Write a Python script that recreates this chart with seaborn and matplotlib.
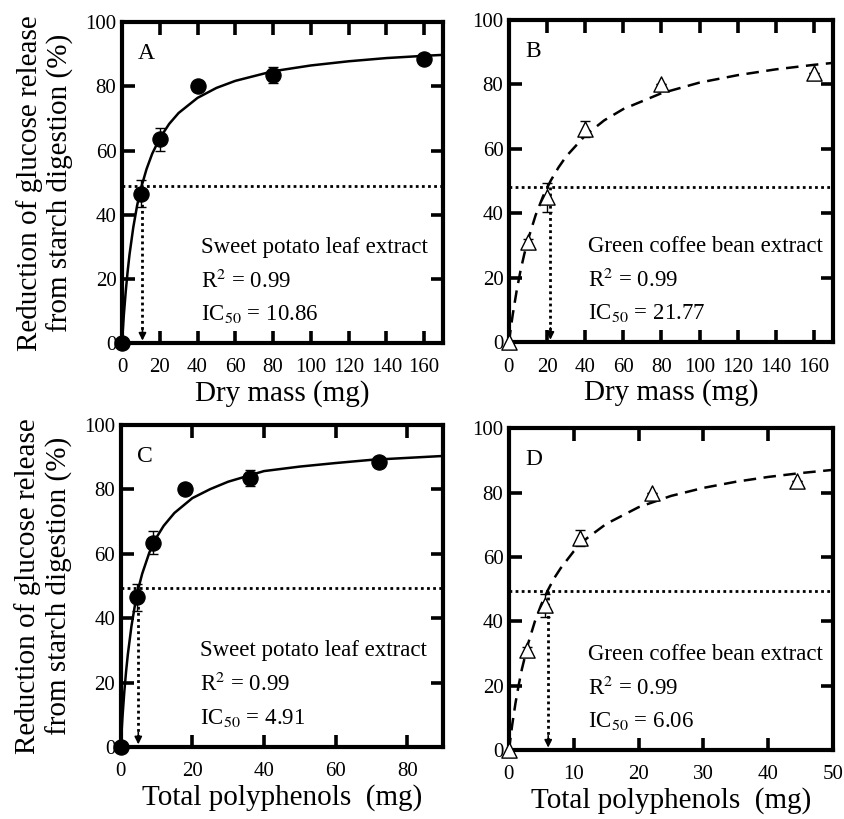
import matplotlib

matplotlib.use("Agg")
import matplotlib.pyplot as plt
import numpy as np
import pandas as pd
import seaborn as sns

# ---- measured points (mean reduction %, error) ----
sp_dry_x = [0, 10, 20, 40, 80, 160]
sp_dry_y = [0, 46.5, 63.5, 80, 83.5, 88.5]
sp_dry_err = [0, 4.2, 3.5, 0, 2.5, 0]

gc_dry_x = [0, 10, 20, 40, 80, 160]
gc_dry_y = [0, 31, 45, 66, 80, 83.5]
gc_dry_err = [0, 1.0, 4.5, 2.5, 0, 0]

sp_poly_x = [0, 4.5, 9, 18, 36, 72]
sp_poly_y = [0, 46.5, 63.5, 80, 83.5, 88.5]
sp_poly_err = [0, 4.2, 3.5, 0, 2.5, 0]

gc_poly_x = [0, 2.75, 5.5, 11, 22, 44.5]
gc_poly_y = [0, 31, 45, 66, 80, 83.5]
gc_poly_err = [0, 1.0, 3.5, 2.5, 0, 0]

# ---- fitted curves ----
fit_a_x = [0, 1, 2, 3, 4, 6, 8, 10, 13, 16, 20, 25, 30, 40, 50, 60, 80, 100, 120, 140, 160, 170]
fit_a_y = [0, 8.8, 16.1, 22.3, 27.6, 36.1, 42.8, 48.1, 54.2, 59.0, 63.8, 68.3, 71.7, 76.4,
           79.5, 81.7, 84.7, 86.5, 87.8, 88.8, 89.5, 89.8]

fit_b_x = [0, 1, 2, 4, 6, 8, 10, 14, 18, 22, 26, 30, 40, 50, 60, 80, 100, 120, 140, 160, 170]
fit_b_y = [0, 4.5, 8.6, 15.8, 22.0, 27.2, 31.8, 39.4, 45.4, 50.2, 54.2, 57.6, 64.1, 68.8,
           72.3, 77.2, 80.5, 82.8, 84.6, 86.0, 86.6]

fit_c_x = [0, 0.5, 1, 1.5, 2, 3, 4, 5, 6, 8, 10, 12, 15, 20, 25, 30, 40, 50, 60, 70, 80, 90]
fit_c_y = [0, 9.3, 17.0, 23.4, 28.8, 37.5, 44.2, 49.5, 53.8, 60.4, 65.1, 68.7, 72.7, 77.3,
           80.1, 82.4, 85.7, 87.1, 88.2, 89.2, 89.8, 90.4]

fit_d_x = [0, 0.5, 1, 1.5, 2, 3, 4, 5, 6, 7, 8, 10, 12, 15, 20, 25, 30, 35, 40, 45, 50]
fit_d_y = [0, 7.8, 14.5, 20.2, 25.2, 33.4, 40.0, 45.3, 49.7, 53.5, 56.6, 61.8, 65.8, 70.3,
           75.5, 79.0, 81.5, 83.4, 84.9, 86.1, 87.1]

panel_letters = ["A", "B", "C", "D"]
extract_names = ["Sweet potato leaf extract", "Green coffee bean extract",
                 "Sweet potato leaf extract", "Green coffee bean extract"]
r2_values = ["0.99", "0.99", "0.99", "0.99"]
ic50_values = [10.86, 21.77, 4.91, 6.06]
half_lines = [49, 48, 49.5, 49.5]
x_limits = [170, 170, 90, 50]
x_steps = [20, 20, 20, 10]
x_labels = ["Dry mass (mg)", "Dry mass (mg)", "Total polyphenols  (mg)", "Total polyphenols  (mg)"]


def draw_panel(ax, i, px, py, perr, fx, fy, filled):
    fit = pd.DataFrame({"x": fx, "y": fy})
    sns.lineplot(data=fit, x="x", y="y", ax=ax, color="black", lw=1.8,
                 linestyle="-" if filled else (0, (5, 3)), sort=False)

    pts = pd.DataFrame({"x": px, "y": py, "err": perr})
    ax.errorbar(pts["x"], pts["y"], yerr=pts["err"], fmt="none", ecolor="black",
                elinewidth=1.0, capsize=3.5, capthick=1.0, zorder=3)
    if filled:
        sns.scatterplot(data=pts, x="x", y="y", ax=ax, color="black", s=120,
                        marker="o", edgecolor="black", zorder=4, clip_on=False)
    else:
        sns.scatterplot(data=pts, x="x", y="y", ax=ax, facecolor="white", s=120,
                        marker="^", edgecolor="black", linewidth=1.0, zorder=4, clip_on=False)

    xmax = x_limits[i]
    ic = ic50_values[i]
    h = half_lines[i]
    ax.plot([0, xmax], [h, h], color="black", lw=2.0, linestyle=(0, (1, 1.2)), zorder=2)
    ax.plot([ic, ic], [h, 3.5], color="black", lw=2.0, linestyle=(0, (1, 1.2)), zorder=2)
    ax.annotate("", xy=(ic, 0.8), xytext=(ic, 4.5),
                arrowprops=dict(arrowstyle="-|>", color="black", lw=1.2,
                                mutation_scale=11, shrinkA=0, shrinkB=0))

    ax.set_xlim(0, xmax)
    ax.set_ylim(0, 100)
    ax.set_xticks(np.arange(0, xmax + 0.1, x_steps[i]))
    ax.set_yticks(np.arange(0, 101, 20))
    ax.tick_params(axis="both", direction="in", length=9, width=2.6, top=True, right=True,
                   labelsize=15, colors="black")
    ax.tick_params(axis="x", pad=11)
    ax.tick_params(axis="y", pad=4)
    for s in ax.spines.values():
        s.set_linewidth(3.0)
        s.set_color("black")

    ax.set_xlabel(x_labels[i], fontsize=21, labelpad=2)
    ax.set_ylabel("")
    ax.text(0.05, 0.885, panel_letters[i], transform=ax.transAxes, fontsize=17)
    ax.text(0.245, 0.281, extract_names[i], transform=ax.transAxes, fontsize=16.5)
    ax.text(0.245, 0.173, "R$^2$ = " + r2_values[i], transform=ax.transAxes, fontsize=16.5)
    ax.text(0.245, 0.071, "IC$_{50}$ = " + f"{ic50_values[i]:.2f}", transform=ax.transAxes,
            fontsize=16.5)


def main():
    sns.set_theme(style="ticks")
    plt.rcParams["font.family"] = ["Liberation Serif", "DejaVu Serif"]
    plt.rcParams["mathtext.fontset"] = "stix"
    plt.rcParams["text.color"] = "black"
    plt.rcParams["axes.labelcolor"] = "black"

    fig = plt.figure(figsize=(8.44, 8.19), dpi=100)
    boxes = [
        [0.1445, 0.581, 0.3805, 0.392],
        [0.603, 0.582, 0.384, 0.394],
        [0.143, 0.088, 0.382, 0.393],
        [0.603, 0.084, 0.384, 0.393],
    ]
    axes = [fig.add_axes(b) for b in boxes]

    draw_panel(axes[0], 0, sp_dry_x, sp_dry_y, sp_dry_err, fit_a_x, fit_a_y, True)
    draw_panel(axes[1], 1, gc_dry_x, gc_dry_y, gc_dry_err, fit_b_x, fit_b_y, False)
    draw_panel(axes[2], 2, sp_poly_x, sp_poly_y, sp_poly_err, fit_c_x, fit_c_y, True)
    draw_panel(axes[3], 3, gc_poly_x, gc_poly_y, gc_poly_err, fit_d_x, fit_d_y, False)

    for ax in (axes[0], axes[2]):
        ax.set_ylabel("Reduction of glucose release\nfrom starch digestion (%)",
                      fontsize=21, linespacing=1.2, labelpad=8)

    fig.savefig("out.png", dpi=100)
    plt.close(fig)


if __name__ == "__main__":
    main()
